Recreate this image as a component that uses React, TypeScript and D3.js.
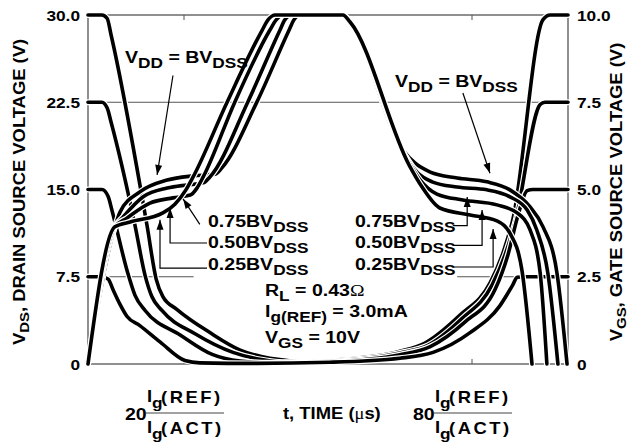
import React from 'react';
import * as d3 from 'd3';

const width = 631, height = 446;
const plot = { left: 88, right: 568, top: 15, bottom: 364 };
const FONT = "'Liberation Sans', Arial, Helvetica, sans-serif";
const SX = 1.15; // the original lettering is a little wider than Arial

// axis ticks
const vdsTicks = [0, 7.5, 15, 22.5, 30];
const vdsTickLabels = ['0', '7.5', '15.0', '22.5', '30.0'];
const vgsTicks = [0, 2.5, 5, 7.5, 10];
const vgsTickLabels = ['0', '2.5', '5.0', '7.5', '10.0'];
const timeTicks = [20, 80];
const timeTickLabels = ['20', '80'];

// V_DS (left axis, volts) against normalised time, one curve per V_DD
const vds100 = [[0, 30], [2.9, 30], [4.0, 29.7], [4.8, 28.3], [12.3, 11.9], [14.2, 7.3], [15.6, 5.8], [18.5, 4.7], [25.4, 2.7], [31.7, 1.2], [37.9, 0.5], [46.3, 0.2], [50.4, 0.3], [65, 1.1], [70.2, 1.8], [77.5, 4.2], [83.8, 7.0], [86.5, 9.6], [88.5, 12.4], [94.8, 29.6], [96.3, 30], [100, 30]];
const vds75 = [[0, 22.5], [2.9, 22.5], [4.0, 22.0], [4.8, 20.8], [9.8, 11.9], [11.9, 7.6], [13.3, 5.8], [15.4, 4.6], [22.3, 2.6], [30.2, 1.0], [35.8, 0.4], [41.9, 0.15], [50.4, 0.25], [65, 0.95], [70.8, 1.6], [77.9, 3.9], [84.2, 6.8], [86.9, 9.4], [89.0, 12.2], [94.2, 22.3], [95.2, 22.5], [100, 22.5]];
const vds50 = [[0, 15], [2.9, 15], [4.2, 14.4], [5.0, 13.2], [8.3, 7.8], [9.8, 5.9], [11.9, 4.6], [19.2, 2.5], [26.0, 0.8], [31.7, 0.25], [37.9, 0.1], [50.4, 0.2], [65, 0.8], [71.3, 1.5], [78.5, 3.6], [84.8, 6.4], [87.5, 9.4], [89.6, 12.8], [91.5, 14.9], [92.7, 15], [100, 15]];
const vds25 = [[0, 7.5], [2.9, 7.5], [4.2, 7.3], [5.2, 6.4], [6.7, 5.1], [8.1, 4.1], [10.8, 3.3], [15.0, 1.9], [20.2, 0.3], [23.3, 0.1], [35, 0.05], [50.4, 0.15], [65, 0.5], [71.9, 1.0], [79.6, 2.7], [85.8, 5.0], [88.5, 6.8], [89.4, 7.45], [91.0, 7.5], [100, 7.5]];

// V_GS (right axis, volts)
const vgs100 = [[0, 0], [5.6, 3.93], [6.7, 4.36], [10.8, 4.93], [16.5, 5.27], [21.9, 5.39], [26.5, 5.44], [27.9, 5.62], [35.2, 7.51], [41.9, 9.57], [42.9, 9.86], [44.2, 10], [53.1, 10], [54.6, 9.8], [65.6, 6.13], [68.1, 5.76], [71.3, 5.5], [76.9, 5.33], [83.1, 5.22], [87.9, 4.99], [92.1, 4.5], [94.8, 3.93], [97.7, 2.61], [99.8, 0]];
const vgs75 = [[0, 0], [5.6, 3.93], [7.3, 4.21], [11.5, 4.79], [16.5, 5.04], [20.6, 5.13], [24.0, 5.19], [25.4, 5.36], [33.3, 7.51], [40.0, 9.57], [41.0, 9.86], [42.5, 10], [53.1, 10], [54.6, 9.8], [66.0, 5.99], [68.5, 5.5], [71.7, 5.22], [76.9, 5.07], [83.1, 4.99], [87.9, 4.79], [91.5, 4.41], [93.5, 3.84], [95.8, 2.61], [97.9, 0]];
const vgs50 = [[0, 0], [5.6, 3.93], [8.1, 4.18], [12.9, 4.61], [17.7, 4.76], [21.3, 4.84], [22.7, 5.04], [24.0, 5.36], [30.6, 7.51], [37.9, 9.57], [39.2, 9.86], [40.6, 10], [53.1, 10], [54.6, 9.8], [66.5, 5.85], [69.2, 5.27], [72.7, 4.87], [78.1, 4.7], [85.2, 4.56], [89.4, 4.33], [92.1, 3.84], [94.2, 2.61], [95.6, 0]];
const vgs25 = [[0, 0], [5.6, 3.93], [8.8, 4.07], [15.6, 4.33], [18.1, 4.58], [20.4, 4.99], [21.9, 5.36], [29.0, 7.51], [36.3, 9.57], [37.5, 9.86], [39.0, 10], [53.1, 10], [54.6, 9.8], [66.9, 5.7], [69.6, 5.07], [73.3, 4.47], [79.6, 4.27], [85.2, 4.1], [87.9, 3.75], [90.4, 2.69], [92.5, 0]];

// annotation arrows, [t, V_DS] points, the last one is the tip
const arrows = [
  [[17.7, 24.8], [14.4, 16.25]],
  [[23.3, 12.0], [19.8, 14.2]],
  [[24.8, 10.4], [17.1, 10.4], [17.1, 13.4]],
  [[24.8, 8.25], [15.0, 8.25], [15.0, 12.4]],
  [[78.1, 23.3], [83.75, 16.4]],
  [[76.0, 11.9], [79.0, 11.9], [79.0, 14.36]],
  [[76.0, 10.2], [82.1, 10.2], [82.1, 13.24]],
  [[76.0, 8.34], [84.4, 8.34], [84.4, 11.6]],
];

const x = d3.scaleLinear().domain([0, 100]).range([plot.left, plot.right]);
const yL = d3.scaleLinear().domain([0, 30]).range([plot.bottom, plot.top]);
const yR = d3.scaleLinear().domain([0, 10]).range([plot.bottom, plot.top]);

const lineL = d3.line().x((d: any) => x(d[0])).y((d: any) => yL(d[1])).curve(d3.curveMonotoneX);
const lineR = d3.line().x((d: any) => x(d[0])).y((d: any) => yR(d[1])).curve(d3.curveMonotoneX);

function Label({ x, y, anchor = 'start', size = 17, rotate = 0, spacing = 0, children }: any) {
  return (
    <text transform={`translate(${x},${y}) rotate(${rotate}) scale(${SX},1)`} textAnchor={anchor}
      fontFamily={FONT} fontWeight="bold" fontSize={size} letterSpacing={spacing}>
      {children}
    </text>
  );
}

function Arrow({ pts }: any) {
  const p = pts.map((d: any) => [x(d[0]), yL(d[1])]);
  const a = p[p.length - 2], b = p[p.length - 1];
  const ang = Math.atan2(b[1] - a[1], b[0] - a[0]);
  const L = 10, w = 3.5, c = Math.cos(ang), s = Math.sin(ang);
  const head = [b, [b[0] - L * c + w * s, b[1] - L * s - w * c], [b[0] - L * c - w * s, b[1] - L * s + w * c]];
  return (
    <g>
      <path d={d3.line()(p)} fill="none" stroke="#000" strokeWidth={1.2} />
      <polygon points={head.map(q => q.join(',')).join(' ')} fill="#000" />
    </g>
  );
}

function BvLabel({ x, y, k }: any) {
  return (
    <Label x={x} y={y}>
      {k}BV<tspan dy={5} fontSize={15}>DSS</tspan>
    </Label>
  );
}

// "n · Ig(REF)/Ig(ACT)" under a time tick
function Fraction({ t, text }: any) {
  const x0 = x(t) - 38;
  return (
    <g>
      <Label x={x0 - 21} y={420} size={17}>{text}</Label>
      <line x1={x0} x2={x0 + 78} y1={413} y2={413} stroke="#444" strokeWidth={1} />
      <Label x={x0 + 1} y={402} size={16}>I</Label>
      <Label x={x0 + 6} y={408} size={15}>g</Label>
      <Label x={x0 + 15} y={403} size={16} spacing={2.2}>(REF)</Label>
      <Label x={x0 + 1} y={433} size={16}>I</Label>
      <Label x={x0 + 6} y={439} size={15}>g</Label>
      <Label x={x0 + 15} y={434} size={16} spacing={2.2}>(ACT)</Label>
    </g>
  );
}

export default function App() {
  const vds = [vds100, vds75, vds50, vds25];
  const vgs = [vgs100, vgs75, vgs50, vgs25];
  return (
    <svg width={width} height={height} style={{ position: 'absolute', left: 0, top: 0, background: '#fff' }}>
      {/* grid and frame */}
      <g stroke="#555" strokeWidth={1}>
        <line x1={plot.left} x2={plot.right} y1={yL(22.5)} y2={yL(22.5)} />
        <line x1={plot.left} x2={x(22)} y1={yL(7.5)} y2={yL(7.5)} />
        <line x1={x(76.9)} x2={plot.right} y1={yL(7.5)} y2={yL(7.5)} />
        <rect x={plot.left} y={plot.top} width={plot.right - plot.left} height={plot.bottom - plot.top} fill="none" strokeWidth={1.3} />
        {timeTicks.map(t => (
          <g key={t}>
            <line x1={x(t)} x2={x(t)} y1={plot.top} y2={plot.top + 5} />
            <line x1={x(t)} x2={x(t)} y1={plot.bottom} y2={plot.bottom - 5} />
          </g>
        ))}
      </g>

      {/* curves */}
      <g fill="none" strokeLinejoin="round" strokeLinecap="round">
        {vds.map((d, i) => (
          <g key={'d' + i}>
            <path d={lineL(d as any)} stroke="#fff" strokeWidth={6} />
            <path d={lineL(d as any)} stroke="#000" strokeWidth={3.6} />
          </g>
        ))}
        {vgs.map((d, i) => (
          <g key={'g' + i}>
            <path d={lineR(d as any)} stroke="#fff" strokeWidth={6} />
            <path d={lineR(d as any)} stroke="#000" strokeWidth={3.6} />
          </g>
        ))}
      </g>

      {/* tick labels */}
      {vdsTicks.map((v, i) => (
        <Label key={'l' + i} x={80} y={yL(v) + 5.5} anchor="end" size={15}>{vdsTickLabels[i]}</Label>
      ))}
      {vgsTicks.map((v, i) => (
        <Label key={'r' + i} x={577} y={yR(v) + 5.5} size={15}>{vgsTickLabels[i]}</Label>
      ))}

      {/* axis titles */}
      <Label x={25} y={192} rotate={-90} anchor="middle" size={16}>
        V<tspan dy={4} fontSize={13}>DS</tspan><tspan dy={-4}>, DRAIN SOURCE VOLTAGE (V)</tspan>
      </Label>
      <Label x={622} y={192} rotate={-90} anchor="middle" size={16}>
        V<tspan dy={4} fontSize={13}>GS</tspan><tspan dy={-4}>, GATE SOURCE VOLTAGE (V)</tspan>
      </Label>

      {/* annotations */}
      {arrows.map((a, i) => <Arrow key={'a' + i} pts={a} />)}
      <Label x={125} y={63}>
        V<tspan dy={5} fontSize={15}>DD</tspan><tspan dy={-5}>{' = BV'}</tspan><tspan dy={5} fontSize={15}>DSS</tspan>
      </Label>
      <Label x={395} y={87}>
        V<tspan dy={5} fontSize={15}>DD</tspan><tspan dy={-5}>{' = BV'}</tspan><tspan dy={5} fontSize={15}>DSS</tspan>
      </Label>
      <BvLabel x={208} y={227} k="0.75" />
      <BvLabel x={208} y={248} k="0.50" />
      <BvLabel x={208} y={270} k="0.25" />
      <BvLabel x={355} y={227} k="0.75" />
      <BvLabel x={355} y={248} k="0.50" />
      <BvLabel x={355} y={270} k="0.25" />

      <Label x={265} y={296}>
        R<tspan dy={5} fontSize={15}>L</tspan><tspan dy={-5}>{' = 0.43'}</tspan>
        <tspan fontFamily="'Liberation Serif', serif" fontWeight="normal">Ω</tspan>
      </Label>
      <Label x={265} y={317}>
        I<tspan dy={5} fontSize={15}>g(REF)</tspan><tspan dy={-5}>{' = 3.0mA'}</tspan>
      </Label>
      <Label x={265} y={343}>
        V<tspan dy={5} fontSize={15}>GS</tspan><tspan dy={-5}>{' = 10V'}</tspan>
      </Label>

      {/* x axis labels */}
      {timeTicks.map((t, i) => <Fraction key={'f' + i} t={t} text={timeTickLabels[i]} />)}
      <Label x={283} y={419} size={16}>
        t, TIME (<tspan fontFamily="'Liberation Serif', serif" fontWeight="normal">μ</tspan>s)
      </Label>
    </svg>
  );
}
